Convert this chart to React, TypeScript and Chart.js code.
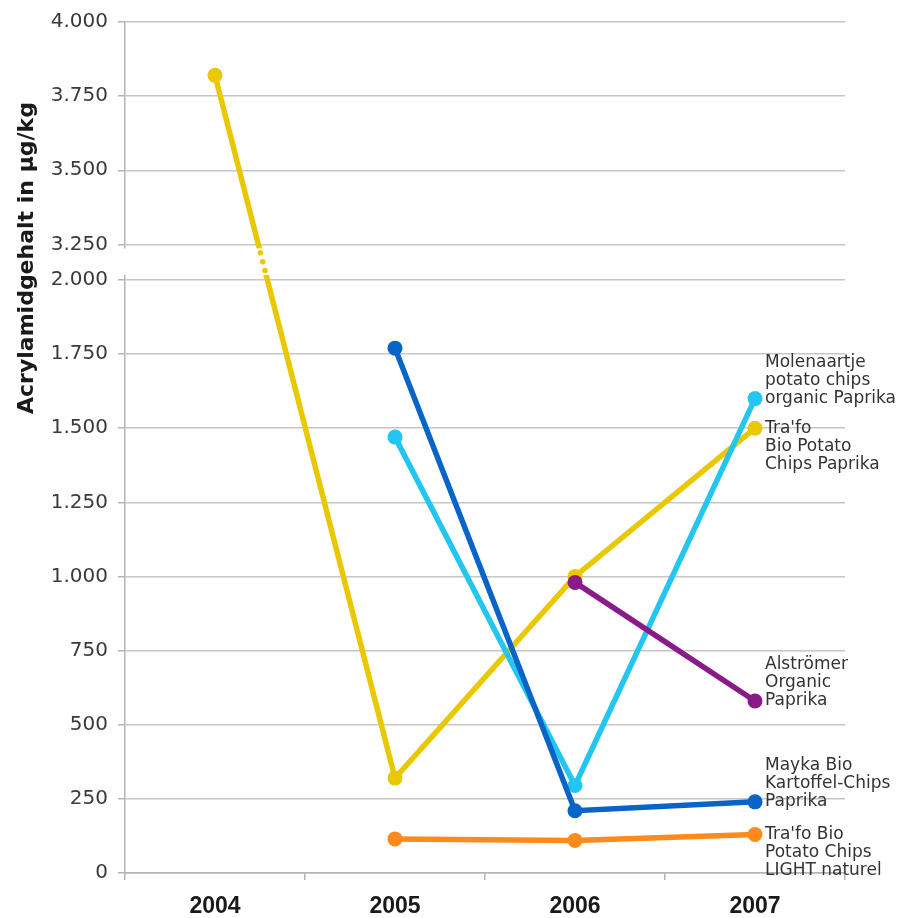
import React, { useEffect, useRef } from "react";
import { Chart, registerables } from "chart.js";

Chart.register(...registerables);

// ---- data ----
const years = ["2004", "2005", "2006", "2007"];
const trafoPaprika = [3820, 320, 1000, 1500];
const molenaartje = [null, 1470, 295, 1600];
const mayka = [null, 1770, 210, 240];
const alstroemer = [null, null, 980, 580];
const trafoLight = [null, 115, 110, 130];

const lowerTicks = [0, 250, 500, 750, 1000, 1250, 1500, 1750, 2000];
const upperTicks = [3250, 3500, 3750, 4000];

const LOWER_MAX = 2000;
const UPPER_MIN = 3250;
const UPPER_MAX = 4000;
const GAP = 120; // axis units reserved for the break

const toAxis = (v: number | null) =>
  v == null ? null : v <= LOWER_MAX ? v : v - UPPER_MIN + LOWER_MAX + GAP;
const fromAxis = (a: number) =>
  a <= LOWER_MAX ? a : a - LOWER_MAX - GAP + UPPER_MIN;
const fmt = (v: number) =>
  v >= 1000
    ? `${Math.floor(v / 1000)}.${String(Math.round(v % 1000)).padStart(3, "0")}`
    : String(Math.round(v));

const endLabels = [
  { name: "Molenaartje", lines: ["Molenaartje", "potato chips", "organic Paprika"], anchor: 2 },
  { name: "TrafoPaprika", lines: ["Tra'fo", "Bio Potato", "Chips Paprika"], anchor: 0 },
  { name: "Alstroemer", lines: ["Alströmer", "Organic", "Paprika"], anchor: 2 },
  { name: "Mayka", lines: ["Mayka Bio", "Kartoffel-Chips", "Paprika"], anchor: 2 },
  { name: "TrafoLight", lines: ["Tra'fo Bio", "Potato Chips", "LIGHT naturel"], anchor: 0 },
];

const YELLOW = "#e9c800";
const CYAN = "#22c6f0";
const BLUE = "#0864c6";
const PURPLE = "#8a1a88";
const ORANGE = "#ff8a1c";

const breakPlugin = {
  id: "axisBreak",
  afterDatasetsDraw(chart: any) {
    const { ctx, chartArea, scales } = chart;
    const y = scales.y;
    const top = y.getPixelForValue(LOWER_MAX + GAP) + 4;
    const bottom = y.getPixelForValue(LOWER_MAX) - 5;
    ctx.save();
    ctx.fillStyle = "#ffffff";
    ctx.fillRect(chartArea.left - 3, top, chartArea.right - chartArea.left + 6, bottom - top);
    const idx = chart.data.datasets.findIndex((d: any) => d.label === "TrafoPaprika");
    const meta = chart.getDatasetMeta(idx);
    const p0 = meta.data[0];
    const p1 = meta.data[1];
    ctx.fillStyle = YELLOW;
    for (let k = 0; k < 3; k++) {
      const yy = top + ((bottom - top) * (k + 0.5)) / 3;
      const xx = p0.x + ((yy - p0.y) * (p1.x - p0.x)) / (p1.y - p0.y);
      ctx.beginPath();
      ctx.arc(xx, yy, 2.8, 0, Math.PI * 2);
      ctx.fill();
    }
    ctx.restore();
  },
};

const labelPlugin = {
  id: "endLabels",
  afterDraw(chart: any) {
    const { ctx, chartArea } = chart;
    ctx.save();
    ctx.font = '17px "DejaVu Sans"';
    ctx.fillStyle = "#333333";
    ctx.textAlign = "left";
    ctx.textBaseline = "middle";
    endLabels.forEach((lab) => {
      const idx = chart.data.datasets.findIndex((d: any) => d.label === lab.name);
      const meta = chart.getDatasetMeta(idx);
      const pt = meta.data[meta.data.length - 1];
      lab.lines.forEach((line, i) => {
        ctx.fillText(line, pt.x + 10, pt.y + (i - lab.anchor) * 18);
      });
    });
    // y axis title
    ctx.font = 'bold 22px "DejaVu Sans"';
    ctx.fillStyle = "#1a1a1a";
    ctx.textAlign = "center";
    ctx.textBaseline = "middle";
    ctx.translate(27, chartArea.top + 236);
    ctx.rotate(-Math.PI / 2);
    ctx.fillText("Acrylamidgehalt in µg/kg", 0, 0);
    ctx.restore();
  },
};

const axisTicks = [...lowerTicks, ...upperTicks].map((v) => toAxis(v) as number);

export default function App() {
  const ref = useRef<HTMLCanvasElement | null>(null);
  useEffect(() => {
    document.body.style.margin = "0";
    if (!ref.current) return;
    const mk = (label: string, data: (number | null)[], color: string) => ({
      label,
      data: data.map(toAxis),
      borderColor: color,
      backgroundColor: color,
      pointBackgroundColor: color,
      pointBorderColor: color,
      borderWidth: 5.5,
      pointRadius: 7.5,
      pointBorderWidth: 0,
      tension: 0,
      fill: false,
    });
    const chart = new Chart(ref.current, {
      type: "line",
      data: {
        labels: years,
        datasets: [
          mk("TrafoLight", trafoLight, ORANGE),
          mk("Alstroemer", alstroemer, PURPLE),
          mk("Mayka", mayka, BLUE),
          mk("Molenaartje", molenaartje, CYAN),
          mk("TrafoPaprika", trafoPaprika, YELLOW),
        ],
      },
      options: {
        animation: false,
        responsive: false,
        layout: { padding: { top: 22, right: 58, left: 0, bottom: 0 } },
        plugins: { legend: { display: false }, tooltip: { enabled: false } },
        scales: {
          x: {
            type: "category",
            offset: true,
            grid: {
              offset: true,
              drawOnChartArea: false,
              drawTicks: true,
              tickLength: 7,
              tickColor: "#b4b4b4",
              lineWidth: 1.5,
            },
            border: { display: true, color: "#b4b4b4", width: 1.5 },
            ticks: {
              color: "#1a1a1a",
              font: { family: '"Liberation Sans", Arial, sans-serif', size: 23, weight: "bold" },
              padding: 13,
              maxRotation: 0,
            },
            afterFit(scale: any) {
              scale.height = 45;
            },
          },
          y: {
            type: "linear",
            min: 0,
            max: toAxis(UPPER_MAX) as number,
            afterBuildTicks(scale: any) {
              scale.ticks = axisTicks.map((v) => ({ value: v }));
            },
            grid: {
              color: "#c6c6c6",
              lineWidth: 1.5,
              tickLength: 7,
              tickColor: "#b4b4b4",
            },
            border: { display: true, color: "#b4b4b4", width: 1.5 },
            ticks: {
              color: "#3a3a3a",
              font: { family: '"DejaVu Sans", sans-serif', size: 20 },
              padding: 10,
              callback: (value: any) => fmt(fromAxis(Number(value))),
            },
            afterFit(scale: any) {
              scale.width = 125;
            },
          },
        },
      },
      plugins: [breakPlugin, labelPlugin],
    } as any);
    return () => chart.destroy();
  }, []);
  return (
    <div style={{ width: 903, height: 918 }}>
      <canvas ref={ref} width={903} height={918} style={{ display: "block" }} />
    </div>
  );
}
